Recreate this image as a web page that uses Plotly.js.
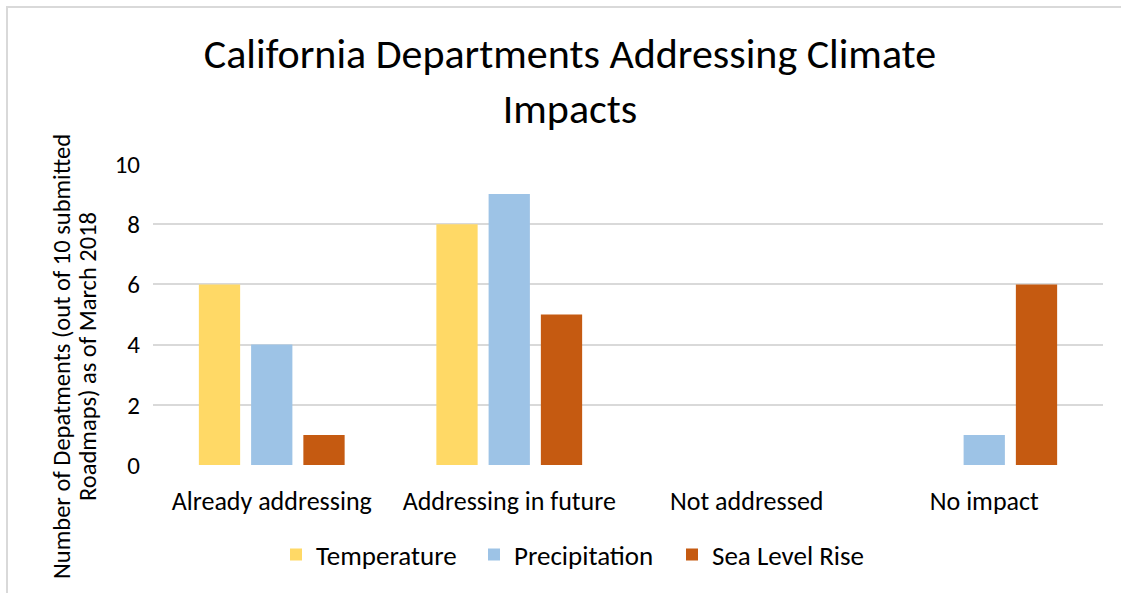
<!DOCTYPE html>
<html>
<head>
<meta charset="utf-8">
<script src="https://cdn.plot.ly/plotly-3.0.1.min.js"></script>
<style>
html,body{margin:0;padding:0;background:#fff;}
#frame{position:absolute;left:6px;top:6px;width:1121px;height:593px;border-top:2px solid #d9d9d9;border-left:2px solid #d9d9d9;pointer-events:none;z-index:5;}
#chart{position:absolute;left:0;top:0;width:1121px;height:593px;}
</style>
</head>
<body>
<div id="chart"></div>
<div id="frame"></div>
<script>
const categories = ["Already addressing", "Addressing in future", "Not addressed", "No impact"];
const temperature = [6, 8, 0, 0];
const precipitation = [4, 9, 0, 1];
const seaLevelRise = [1, 5, 0, 6];
const seriesNames = ["Temperature", "Precipitation", "Sea Level Rise"];
const colors = ["#FFD966", "#9DC3E6", "#C55A11"];
const yTicks = [0, 2, 4, 6, 8, 10];
const yTitleLines = ["Number of Depatments (out of 10 submitted", "Roadmaps) as of March 2018"];

const font = "Carlito, Calibri, 'Liberation Sans Narrow', Lato, sans-serif";
const series = [temperature, precipitation, seaLevelRise];
const data = series.map((vals, i) => ({
  type: "bar",
  name: seriesNames[i],
  x: categories,
  y: vals,
  marker: {color: colors[i]}
}));

const yTitleX = [62, 88];
const annotations = yTitleLines.map((t, i) => ({
  text: t,
  xref: "paper", yref: "paper",
  x: (yTitleX[i] - 153) / (1103 - 153),
  y: (465 - 357) / (465 - 164),
  xanchor: "center", yanchor: "middle",
  textangle: -90,
  showarrow: false,
  font: {size: 24.5, color: "#000"}
}));

const layout = {
  width: 1121, height: 593,
  paper_bgcolor: "#fff", plot_bgcolor: "#fff",
  font: {family: font, color: "#000", size: 25},
  margin: {l: 153, r: 18, t: 164, b: 128},
  barmode: "group",
  bargap: 0.34,
  bargroupgap: 0.21,
  title: {
    text: "California Departments Addressing Climate<br>Impacts",
    font: {family: font, size: 42, color: "#000"},
    x: 570/1121, xanchor: "center", xref: "container",
    y: 1 - 68/593, yanchor: "middle", yref: "container"
  },
  xaxis: {
    type: "category",
    showline: false, showgrid: false, zeroline: false,
    ticks: "", tickfont: {size: 26},
    ticklabelstandoff: 18
  },
  yaxis: {
    range: [0, 10],
    tickvals: yTicks,
    ticktext: yTicks.map(String),
    showgrid: true, gridcolor: "#d9d9d9", gridwidth: 2,
    zeroline: false, showline: false,
    ticks: "", tickfont: {size: 25},
    ticklabelstandoff: 12
  },
  annotations: annotations,
  legend: {
    orientation: "h",
    xref: "container", yref: "container",
    x: 276/1121, xanchor: "left",
    y: 1 - 555/593, yanchor: "middle",
    font: {size: 27},
    entrywidth: 153,
    entrywidthmode: "pixels",
    itemwidth: 30,
    traceorder: "normal"
  },
  showlegend: true
};

Plotly.newPlot("chart", data, layout, {displayModeBar: false, staticPlot: true});
</script>
</body>
</html>
